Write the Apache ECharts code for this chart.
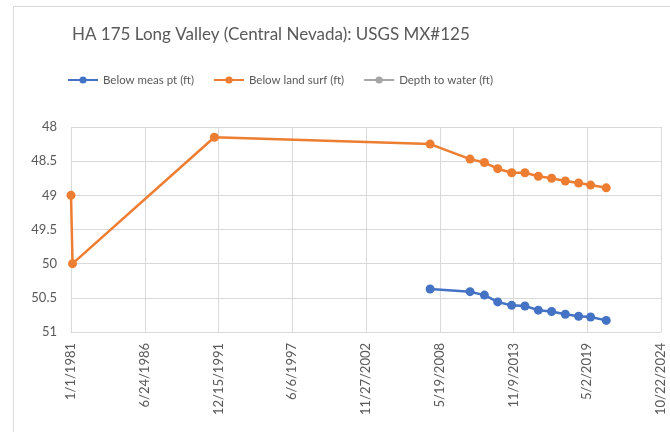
<!DOCTYPE html>
<html>
<head>
<meta charset="utf-8">
<script src="https://cdn.jsdelivr.net/npm/echarts@6/dist/echarts.min.js"></script>
<style>
  html, body { margin: 0; padding: 0; background: #fff; }
  #frame {
    position: absolute; left: 13px; top: 6px;
    width: 700px; height: 460px;
    border: 1px solid #d9d9d9; box-sizing: border-box;
  }
  #chart { position: absolute; left: 0; top: 0; width: 670px; height: 432px; }
</style>
</head>
<body>
<div id="frame"></div>
<div id="chart"></div>
<script>
// sample dates (M/D/YYYY)
const landDates = ['1981-01-01', '1981-02-12', '1991-08-24', '2007-09-01', '2010-08-19',
  '2011-09-12', '2012-09-07', '2013-09-20', '2014-09-15', '2015-09-13', '2016-09-08',
  '2017-09-14', '2018-09-09', '2019-08-01', '2020-09-28'];
const landVals = [49.0, 50.0, 48.15, 48.25, 48.47, 48.52, 48.61, 48.67, 48.67, 48.72,
  48.75, 48.79, 48.82, 48.85, 48.89];

const measDates = ['2007-09-01', '2010-08-19', '2011-09-12', '2012-09-07', '2013-09-20',
  '2014-09-15', '2015-09-13', '2016-09-08', '2017-09-14', '2018-09-09', '2019-08-01',
  '2020-09-28'];
const measVals = [50.37, 50.41, 50.46, 50.56, 50.61, 50.62, 50.68, 50.70, 50.74, 50.77,
  50.78, 50.83];

const depthDates = [];
const depthVals = [];

const seriesNames = ['Below meas pt (ft)', 'Below land surf (ft)', 'Depth to water (ft)'];
const colors = ['#4472c4', '#ed7d31', '#a5a5a5'];

// x axis counted in days from 1/1/1981, ticks every 2000 days like Excel
const base = Date.UTC(1981, 0, 1);
const DAY = 86400000;
function toDays(s) {
  const p = s.split('-');
  return (Date.UTC(+p[0], +p[1] - 1, +p[2]) - base) / DAY;
}
function dayLabel(v) {
  const d = new Date(base + v * DAY);
  return (d.getUTCMonth() + 1) + '/' + d.getUTCDate() + '/' + d.getUTCFullYear();
}
function pairs(dates, vals) {
  return dates.map((d, i) => [toDays(d), vals[i]]);
}

const font = 'Lato, sans-serif';
const myChart = echarts.init(document.getElementById('chart'), null, { renderer: 'canvas' });

function mkSeries(i, data) {
  return {
    name: seriesNames[i],
    type: 'line',
    data: data,
    symbol: 'circle',
    symbolSize: 9,
    lineStyle: { width: 2.5, color: colors[i] },
    itemStyle: { color: colors[i] },
    emphasis: { disabled: true },
    animation: false
  };
}

myChart.setOption({
  title: {
    text: 'HA 175 Long Valley (Central Nevada): USGS MX#125',
    left: 67,
    top: 21,
    textStyle: { fontFamily: font, fontSize: 17, fontWeight: 'normal', color: '#595959' }
  },
  legend: {
    data: seriesNames,
    left: 62,
    top: 69,
    itemWidth: 30,
    itemHeight: 9,
    itemGap: 19,
    textStyle: { fontFamily: font, fontSize: 11.5, color: '#595959' }
  },
  grid: { left: 71, right: 9, top: 127, bottom: 100, containLabel: false },
  xAxis: {
    type: 'value',
    min: 0,
    max: 16000,
    interval: 2000,
    axisLine: { show: true, lineStyle: { color: '#d9d9d9' } },
    axisTick: { show: false },
    splitLine: { show: true, lineStyle: { color: '#d9d9d9', width: 1 } },
    axisLabel: {
      rotate: 90,
      margin: 11,
      formatter: dayLabel,
      fontFamily: font, fontSize: 13, color: '#595959'
    }
  },
  yAxis: {
    type: 'value',
    inverse: true,
    min: 48,
    max: 51,
    interval: 0.5,
    axisLine: { show: false },
    axisTick: { show: false },
    splitLine: { show: true, lineStyle: { color: '#d9d9d9', width: 1 } },
    axisLabel: { margin: 14, fontFamily: font, fontSize: 13, color: '#595959' }
  },
  series: [
    mkSeries(0, pairs(measDates, measVals)),
    mkSeries(1, pairs(landDates, landVals)),
    mkSeries(2, pairs(depthDates, depthVals))
  ]
});
</script>
</body>
</html>
